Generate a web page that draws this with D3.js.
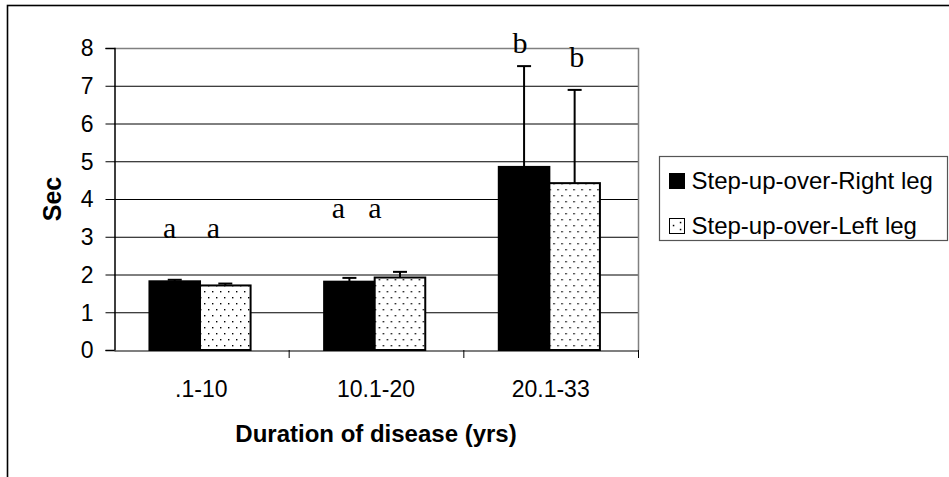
<!DOCTYPE html>
<html>
<head>
<meta charset="utf-8">
<script src="https://cdn.jsdelivr.net/npm/d3@7"></script>
<style>
  body { margin: 0; background: #fff; }
  svg { display: block; }
</style>
</head>
<body>
<div id="graph"></div>
<script>
"use strict";

// Data
const categories = [".1-10", "10.1-20", "20.1-33"];
const seriesNames = ["Step-up-over-Right leg", "Step-up-over-Left leg"];
const rightLeg = [1.82, 1.81, 4.85];
const leftLeg = [1.71, 1.92, 4.42];
const rightErr = [0.04, 0.10, 2.67];
const leftErr = [0.05, 0.15, 2.47];
const rightLetters = ["a", "a", "b"];
const leftLetters = ["a", "a", "b"];
const rightLetterLevel = [2.97, 3.5, 7.87];
const leftLetterLevel = [2.97, 3.5, 7.5];
const yTicks = [0, 1, 2, 3, 4, 5, 6, 7, 8];

const w = 949;
const h = 477;
const margin = { top: 48, left: 114, right: 311, bottom: 127 };
const sans = "'Liberation Sans', Arial, sans-serif";
const serif = "'Liberation Serif', 'Times New Roman', serif";
// the letters were placed by hand in the original, a little left of the bars
const letterShift = [[-5, -12], [-11, -25], [-4, 2]];

const svg = d3.select("#graph").append("svg").attr("width", w).attr("height", h);

// Dotted fill for the left leg
const defs = svg.append("defs");
const pat = defs.append("pattern")
  .attr("id", "dots")
  .attr("patternUnits", "userSpaceOnUse")
  .attr("width", 8)
  .attr("height", 12);
pat.append("rect").attr("width", 8).attr("height", 12).attr("fill", "#fff");
pat.append("rect").attr("x", 2).attr("y", 3).attr("width", 1.4).attr("height", 1.4).attr("fill", "#000");
pat.append("rect").attr("x", 6).attr("y", 9).attr("width", 1.4).attr("height", 1.4).attr("fill", "#000");

// outer frame (cut by the picture on the right and bottom)
svg.append("rect")
  .attr("x", 7.5)
  .attr("y", 5.5)
  .attr("width", w + 20)
  .attr("height", h + 20)
  .attr("fill", "none")
  .attr("stroke", "#000")
  .attr("stroke-width", 1.6);

const x = d3.scaleBand().domain(categories).range([margin.left, w - margin.right]);
const bw = x.bandwidth();
const xs = d3.scaleBand().domain(seriesNames).range([bw * 0.203, bw * 0.782]);
const y = d3.scaleLinear().domain([0, 8]).range([h - margin.bottom, margin.top]);

// gridlines
svg.append("g")
  .selectAll("line")
  .data(yTicks.filter((d) => d > 0 && d < 8))
  .join("line")
  .attr("x1", margin.left)
  .attr("x2", w - margin.right)
  .attr("y1", (d) => y(d) + 0.5)
  .attr("y2", (d) => y(d) + 0.5)
  .attr("stroke", "#000")
  .attr("stroke-width", 1);

// plot border top and right
svg.append("path")
  .attr("d", `M${margin.left},${y(8) + 0.5}H${w - margin.right + 0.5}V${y(0)}`)
  .attr("fill", "none")
  .attr("stroke", "#808080")
  .attr("stroke-width", 1.5);

// y axis
const yAxis = svg.append("g")
  .attr("transform", `translate(${margin.left + 0.5},0)`)
  .call(d3.axisLeft(y).tickValues(yTicks).tickSize(9).tickPadding(12).tickFormat(d3.format("d")));
yAxis.select(".domain").attr("stroke", "#000").attr("stroke-width", 1.5);
yAxis.selectAll(".tick line").attr("stroke", "#000");
yAxis.selectAll(".tick text")
  .attr("font-family", sans)
  .attr("font-size", 23)
  .attr("fill", "#000")
  .attr("dy", "0.34em");

// x axis
const xAxis = svg.append("g")
  .attr("transform", `translate(0,${y(0) + 0.5})`)
  .call(d3.axisBottom(x).tickSize(0).tickPadding(30));
xAxis.select(".domain").attr("stroke", "#555").attr("stroke-width", 1.5);
xAxis.selectAll(".tick text")
  .attr("font-family", sans)
  .attr("font-size", 23)
  .attr("fill", "#000");
// category separators
svg.append("g")
  .selectAll("line")
  .data(categories.slice(1).concat(["end"]))
  .join("line")
  .attr("x1", (d) => (d === "end" ? w - margin.right : x(d)) + 0.5)
  .attr("x2", (d) => (d === "end" ? w - margin.right : x(d)) + 0.5)
  .attr("y1", y(0))
  .attr("y2", y(0) + 8)
  .attr("stroke", "#000");

// bars
const rows = categories.map((c, i) => ({
  cat: c,
  items: [
    { s: seriesNames[0], v: rightLeg[i], e: rightErr[i], l: rightLetters[i], lv: rightLetterLevel[i], dx: letterShift[i][0] },
    { s: seriesNames[1], v: leftLeg[i], e: leftErr[i], l: leftLetters[i], lv: leftLetterLevel[i], dx: letterShift[i][1] },
  ],
}));

const groups = svg.append("g")
  .selectAll("g")
  .data(rows)
  .join("g")
  .attr("transform", (d) => `translate(${x(d.cat)},0)`);

groups.selectAll("rect")
  .data((d) => d.items)
  .join("rect")
  .attr("x", (d) => xs(d.s))
  .attr("y", (d) => y(d.v))
  .attr("width", xs.bandwidth())
  .attr("height", (d) => y(0) - y(d.v))
  .attr("fill", (d, i) => (i === 0 ? "#000" : "url(#dots)"))
  .attr("stroke", "#000")
  .attr("stroke-width", 2);

// error bars (upper only)
const err = groups.selectAll("g.err")
  .data((d) => d.items)
  .join("g")
  .attr("class", "err")
  .attr("transform", (d) => `translate(${xs(d.s) + xs.bandwidth() / 2},0)`);
err.append("line")
  .attr("y1", (d) => y(d.v))
  .attr("y2", (d) => y(d.v + d.e))
  .attr("stroke", "#000")
  .attr("stroke-width", 2);
err.append("line")
  .attr("x1", -7)
  .attr("x2", 7)
  .attr("y1", (d) => y(d.v + d.e))
  .attr("y2", (d) => y(d.v + d.e))
  .attr("stroke", "#000")
  .attr("stroke-width", 2);

// significance letters
groups.selectAll("text.sig")
  .data((d) => d.items)
  .join("text")
  .attr("class", "sig")
  .attr("x", (d) => xs(d.s) + xs.bandwidth() / 2 + d.dx)
  .attr("y", (d) => y(d.lv))
  .attr("text-anchor", "middle")
  .attr("font-family", serif)
  .attr("font-size", 30)
  .text((d) => d.l);

// axis titles
svg.append("text")
  .attr("x", (margin.left + w - margin.right) / 2)
  .attr("y", 442)
  .attr("text-anchor", "middle")
  .attr("font-family", sans)
  .attr("font-weight", "bold")
  .attr("font-size", 24)
  .text("Duration of disease (yrs)");

svg.append("text")
  .attr("transform", `translate(61,${(y(0) + y(8)) / 2}) rotate(-90)`)
  .attr("text-anchor", "middle")
  .attr("font-family", sans)
  .attr("font-weight", "bold")
  .attr("font-size", 25)
  .text("Sec");

// legend
const legend = svg.append("g").attr("transform", "translate(659.5,156.5)");
legend.append("rect")
  .attr("width", 288)
  .attr("height", 84)
  .attr("fill", "#fff")
  .attr("stroke", "#555")
  .attr("stroke-width", 1.2);

const item = legend.selectAll("g")
  .data(seriesNames)
  .join("g")
  .attr("transform", (d, i) => `translate(10,${17 + i * 45})`);
item.append("rect")
  .attr("width", 15)
  .attr("height", 15)
  .attr("fill", (d, i) => (i === 0 ? "#000" : "#fff"))
  .attr("stroke", "#000")
  .attr("stroke-width", 1);
item.filter((d, i) => i === 1)
  .selectAll("circle")
  .data([[4, 7], [11, 4], [11, 11]])
  .join("rect")
  .attr("x", (d) => d[0] - 0.7)
  .attr("y", (d) => d[1] - 0.7)
  .attr("width", 1.5)
  .attr("height", 1.5)
  .attr("fill", "#000");
item.append("text")
  .attr("x", 22)
  .attr("y", 15)
  .attr("font-family", sans)
  .attr("font-size", 24)
  .text((d) => d);
</script>
</body>
</html>
